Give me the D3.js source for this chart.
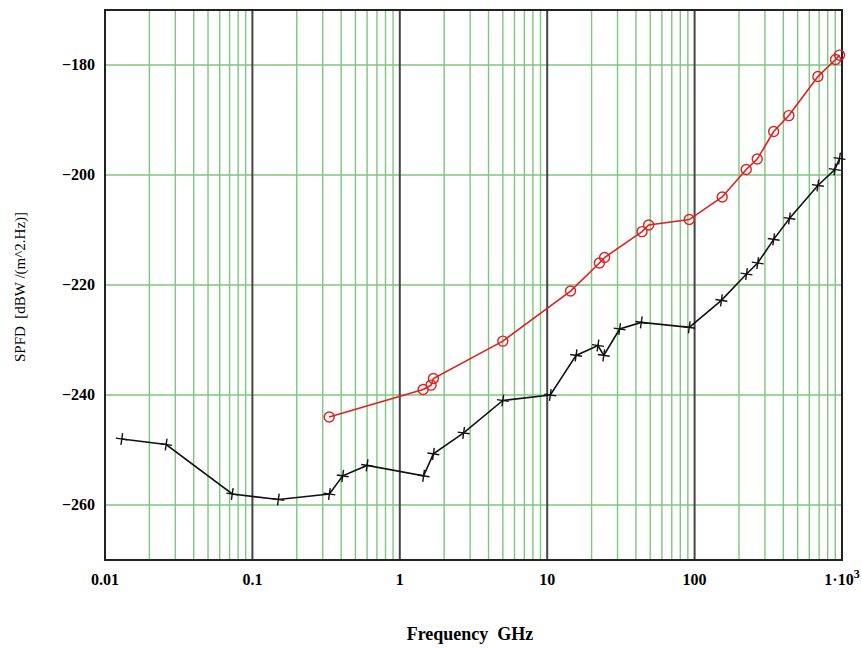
<!DOCTYPE html>
<html>
<head>
<meta charset="UTF-8">
<title>SPFD vs frequency</title>
<script src="https://d3js.org/d3.v7.min.js"></script>
<style>
  body { margin: 0; background: #fff; }
  text { font-family: "Liberation Serif", "DejaVu Serif", serif; white-space: pre; }
</style>
</head>
<body>
<svg id="svg" width="862" height="648"></svg>
<script>
// black curve (+ markers)
var blackFreq = [0.013, 0.026, 0.073, 0.15, 0.333, 0.41, 0.6, 1.45, 1.69, 2.71, 5.0, 10.5, 15.7, 22.1, 24.2, 31, 43.5, 92, 152, 225, 268, 344, 440, 686, 894, 962];
var blackSpfd = [-248, -249, -258, -259, -258, -254.7, -252.8, -254.7, -250.7, -246.9, -241, -240, -232.8, -231, -232.8, -228, -226.8, -227.7, -222.8, -218, -216, -211.7, -207.9, -201.9, -199, -197];
// red curve (o markers)
var redFreq = [0.332, 1.44, 1.63, 1.69, 5.0, 14.4, 22.6, 24.5, 44, 48.8, 92, 154, 224, 266, 344, 436, 686, 904, 962];
var redSpfd = [-244, -239, -238.2, -237, -230.2, -221.1, -216, -215, -210.3, -209.1, -208.1, -204, -199, -197.1, -192.1, -189.2, -182.1, -179, -178.2];

var xTicks = [0.01, 0.1, 1, 10, 100, 1000];
var yTicks = [-260, -240, -220, -200, -180];

var svg = d3.select("svg");
var pl = 105, pt = 10, pr = 842, pb = 560;

var x = d3.scaleLog().domain([0.01, 1000]).range([pl, pr]);
var y = d3.scaleLinear().domain([-270, -170]).range([pb, pt]);

// minor vertical grid (2..9 in each decade)
var minor = [];
xTicks.slice(0, -1).forEach(function (d) {
  for (var k = 2; k <= 9; k++) minor.push(d * k);
});

var grid = svg.append("g");
grid.selectAll("line.minor")
  .data(minor)
  .enter().append("line")
    .attr("class", "minor")
    .attr("x1", function (d) { return x(d); })
    .attr("x2", function (d) { return x(d); })
    .attr("y1", pt)
    .attr("y2", pb)
    .style("stroke", "#7fc67f")
    .style("stroke-width", 1.4);

grid.selectAll("line.h")
  .data(yTicks)
  .enter().append("line")
    .attr("class", "h")
    .attr("x1", pl)
    .attr("x2", pr)
    .attr("y1", function (d) { return y(d); })
    .attr("y2", function (d) { return y(d); })
    .style("stroke", "#7fc67f")
    .style("stroke-width", 1.4);

grid.selectAll("line.major")
  .data(xTicks.slice(1, -1))
  .enter().append("line")
    .attr("class", "major")
    .attr("x1", function (d) { return x(d); })
    .attr("x2", function (d) { return x(d); })
    .attr("y1", pt)
    .attr("y2", pb)
    .style("stroke", "#444")
    .style("stroke-width", 2);

// frame
svg.append("rect")
  .attr("x", pl)
  .attr("y", pt)
  .attr("width", pr - pl)
  .attr("height", pb - pt)
  .style("fill", "none")
  .style("stroke", "#222")
  .style("stroke-width", 2);

// x tick labels
svg.append("g").selectAll("text")
  .data(xTicks)
  .enter().append("text")
    .attr("x", function (d) { return x(d); })
    .attr("y", 585)
    .attr("text-anchor", "middle")
    .style("font-size", "16px")
    .style("font-weight", "bold")
    .each(function (d) {
      var t = d3.select(this);
      if (d === 1000) {
        t.append("tspan").text("1\u00B710");
        t.append("tspan").attr("dy", -7).style("font-size", "12px").text("3");
      } else {
        t.text(String(d));
      }
    });

// y tick labels
svg.append("g").selectAll("text")
  .data(yTicks)
  .enter().append("text")
    .attr("x", 95)
    .attr("y", function (d) { return y(d) + 5; })
    .attr("text-anchor", "end")
    .style("font-size", "16px")
    .style("font-weight", "bold")
    .text(function (d) { return "\u2212" + Math.abs(d); });

// axis titles
svg.append("text")
  .attr("transform", "translate(25, 287) rotate(-90)")
  .attr("text-anchor", "middle")
  .style("font-size", "15px")
  .text("SPFD  [dBW /(m^2.Hz)]");

svg.append("text")
  .attr("x", 470)
  .attr("y", 640)
  .attr("text-anchor", "middle")
  .style("font-size", "18px")
  .style("font-weight", "bold")
  .text("Frequency  GHz");

var line = d3.line()
  .x(function (d) { return x(d[0]); })
  .y(function (d) { return y(d[1]); });

var black = d3.zip(blackFreq, blackSpfd);
var red = d3.zip(redFreq, redSpfd);

svg.append("path")
  .datum(black)
  .attr("d", line)
  .style("fill", "none")
  .style("stroke", "#111")
  .style("stroke-width", 1.6);

svg.append("path")
  .datum(red)
  .attr("d", line)
  .style("fill", "none")
  .style("stroke", "#e02020")
  .style("stroke-width", 1.6);

// + markers
svg.append("g").selectAll("path")
  .data(black)
  .enter().append("path")
    .attr("d", function (d) {
      var cx = x(d[0]), cy = y(d[1]);
      return "M" + (cx - 6) + "," + cy + "H" + (cx + 6) + "M" + cx + "," + (cy - 6) + "V" + (cy + 6);
    })
    .attr("transform", function (d) { return "rotate(8," + x(d[0]) + "," + y(d[1]) + ")"; })
    .style("stroke", "#111")
    .style("stroke-width", 1.4);

// o markers
svg.append("g").selectAll("circle")
  .data(red)
  .enter().append("circle")
    .attr("cx", function (d) { return x(d[0]); })
    .attr("cy", function (d) { return y(d[1]); })
    .attr("r", 5)
    .style("fill", "none")
    .style("stroke", "#e02020")
    .style("stroke-width", 1.4);
</script>
</body>
</html>
